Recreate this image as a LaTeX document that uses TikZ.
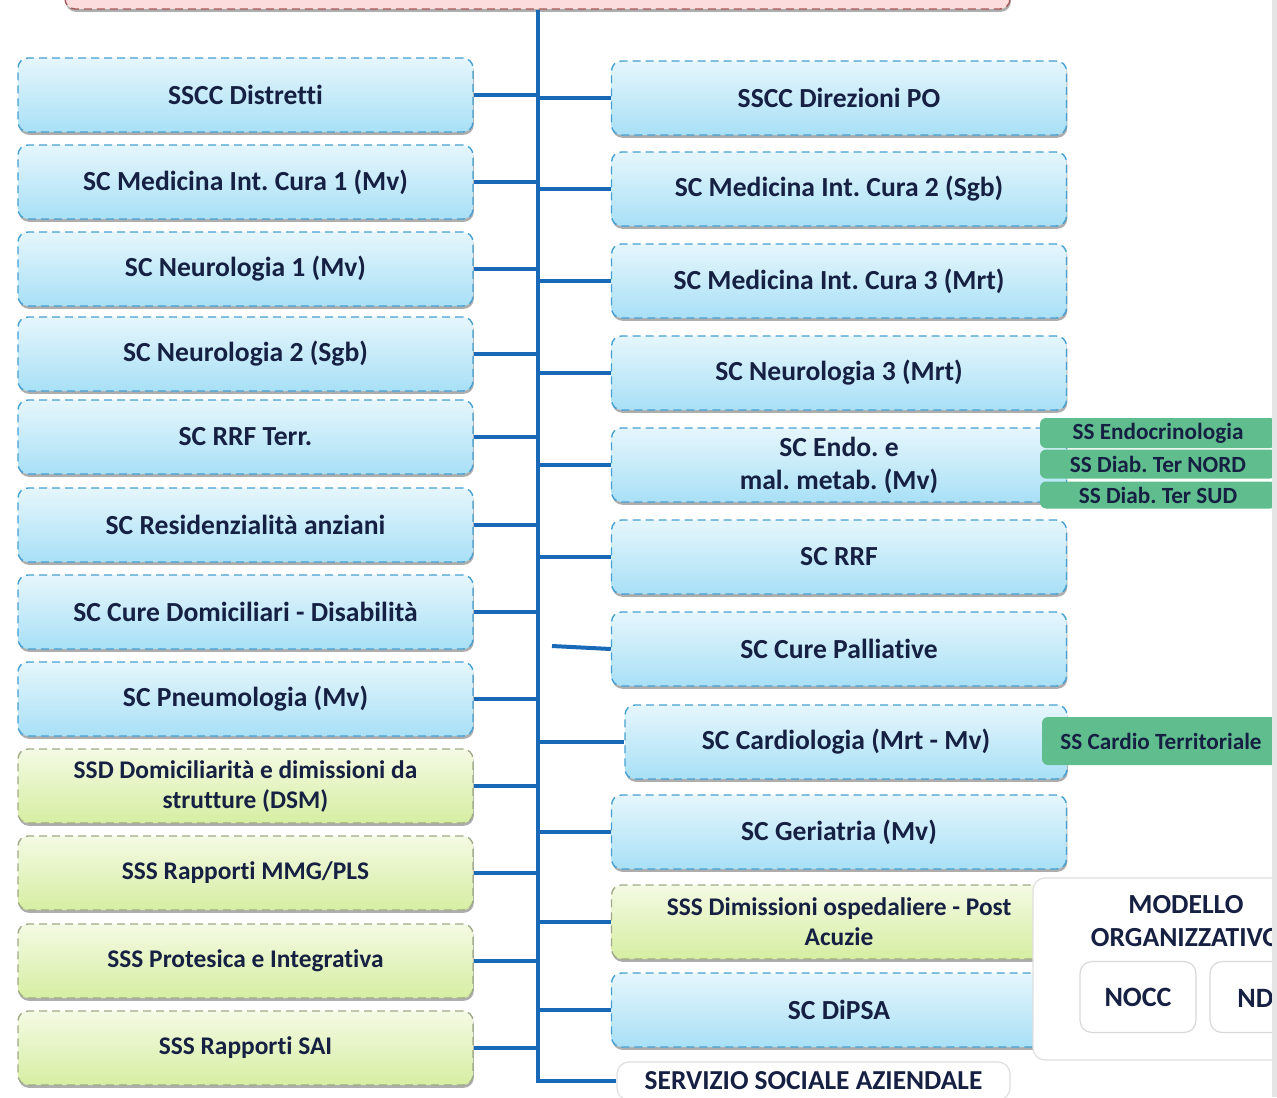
\documentclass[tikz,border=0pt]{standalone}
\usepackage{fontspec}
\setmainfont{Carlito}[Ligatures=NoCommon]
\usepackage{xcolor}
\usepackage{tikz}
\usetikzlibrary{shadows}
\definecolor{navy}{RGB}{22,32,66}
\definecolor{linkblue}{RGB}{25,105,185}
\definecolor{boxedge}{RGB}{70,160,210}
\definecolor{bluetop}{RGB}{230,246,252}
\definecolor{bluebot}{RGB}{168,224,246}
\definecolor{greentop}{RGB}{244,250,228}
\definecolor{greenbot}{RGB}{214,238,162}
\definecolor{greenedge}{RGB}{160,170,135}
\definecolor{ssgreen}{RGB}{96,190,142}
\definecolor{pinkfill}{RGB}{252,220,220}
\frenchspacing

\begin{document}
\begin{tikzpicture}[x=0.5pt, y=-0.5pt, font=\bfseries\fontsize{13.8}{15.5}\selectfont, text=navy,
    unit/.style={rectangle, rounded corners=5pt, dash pattern=on 4pt off 2.5pt, line width=0.7pt,
      draw=boxedge, top color=bluetop, bottom color=bluebot, align=center, inner sep=2pt,
      minimum width=227.5pt, minimum height=37pt,
      drop shadow={shadow xshift=0.4pt, shadow yshift=-1.4pt, fill=gray!80, opacity=0.8}},
    greenunit/.style={unit, draw=greenedge, top color=greentop, bottom color=greenbot,
      font=\bfseries\fontsize{12.7}{15}\selectfont},
    subunit/.style={rectangle, rounded corners=3pt, fill=ssgreen, inner sep=1pt,
      minimum width=118pt, font=\bfseries\fontsize{11.6}{13}\selectfont},
    panelbox/.style={rectangle, rounded corners=6pt, draw=gray!25, line width=0.6pt, fill=white},
    conn/.style={draw=linkblue, line width=2pt}]
  \useasboundingbox (0,0) rectangle (1277,1097);
  \clip (0,0) rectangle (1277,1097);
  \fill[white] (0,0) rectangle (1277,1097);

  % direzione (top, cut)
  \node[unit, draw=gray!70!red, top color=pinkfill, bottom color=pinkfill,
    minimum width=472.5pt, minimum height=34.5pt] (dir) at (537.5,-25.5) {};

  % left column
  \node[unit] (dist) at (245.5,95) {SSCC Distretti};
  \node[unit] (medone) at (245.5,182) {SC Medicina Int. Cura 1 (Mv)};
  \node[unit] (neuone) at (245.5,269) {SC Neurologia 1 (Mv)};
  \node[unit] (neutwo) at (245.5,354) {SC Neurologia 2 (Sgb)};
  \node[unit] (rrfterr) at (245.5,437) {SC RRF Terr.};
  \node[unit] (resid) at (245.5,525) {SC Residenzialità anziani};
  \node[unit] (curedom) at (245.5,612) {SC Cure Domiciliari - Disabilità};
  \node[unit] (pneumo) at (245.5,699) {SC Pneumologia (Mv)};
  \node[greenunit] (ssddom) at (245.5,786) {SSD Domiciliarità e dimissioni da\\strutture (DSM)};
  \node[greenunit] (mmg) at (245.5,873) {SSS Rapporti MMG/PLS};
  \node[greenunit] (protesica) at (245.5,961) {SSS Protesica e Integrativa};
  \node[greenunit] (sai) at (245.5,1048) {SSS Rapporti SAI};

  % right column
  \node[unit] (dirpo) at (839,98) {SSCC Direzioni PO};
  \node[unit] (medtwo) at (839,189) {SC Medicina Int. Cura 2 (Sgb)};
  \node[unit] (medthree) at (839,281) {SC Medicina Int. Cura 3 (Mrt)};
  \node[unit] (neuthree) at (839,373) {SC Neurologia 3 (Mrt)};
  \node[unit, font=\bfseries\fontsize{13.8}{16.5}\selectfont] (endo) at (839,465) {SC Endo. e\\mal. metab. (Mv)};
  \node[unit] (rrf) at (839,557) {SC RRF};
  \node[unit] (pall) at (839,649) {SC Cure Palliative};
  \node[unit, minimum width=221pt] (cardio) at (846,742) {SC Cardiologia (Mrt - Mv)};
  \node[unit] (geri) at (839,832) {SC Geriatria (Mv)};
  \node[greenunit] (dimosp) at (839,922) {SSS Dimissioni ospedaliere - Post\\Acuzie};
  \node[unit] (dipsa) at (839,1010) {SC DiPSA};
  \node[panelbox, minimum width=196.5pt, minimum height=19pt] (sociale) at (813.5,1081)
    {\fontsize{13.7}{15}\selectfont SERVIZIO SOCIALE AZIENDALE};

  % strutture semplici
  \node[subunit, minimum height=15pt] (endocr) at (1158,433) {SS Endocrinologia};
  \node[subunit, minimum height=14.5pt] (diabnord) at (1158,464) {SS Diab. Ter NORD};
  \node[subunit, minimum height=13.5pt] (diabsud) at (1158,495) {SS Diab. Ter SUD};
  \node[subunit, minimum width=119pt, minimum height=24pt] (cardioterr) at (1161,741) {SS Cardio Territoriale};

  % modello organizzativo
  \node[panelbox, minimum width=140pt, minimum height=91pt] (modello) at (1173,969) {};
  \node[font=\bfseries\fontsize{13.8}{16.5}\selectfont, align=center] (modtitle) at (1186,921)
    {MODELLO\\ORGANIZZATIVO};
  \node[panelbox, draw=gray!30, minimum width=58pt, minimum height=35.5pt] (nocc) at (1138,997)
    {\fontsize{14}{15}\selectfont NOCC};
  \node[panelbox, draw=gray!30, minimum width=60pt, minimum height=35.5pt] (ndbox) at (1270,997) {};
  \node[anchor=west, inner sep=0pt, font=\bfseries\fontsize{14}{15}\selectfont] (nd) at (1237,998) {ND};

  % connectors
  \draw[conn] (dir.south) -- (dir.south |- sociale.west) -- (sociale.west);
  \draw[conn] (dist.east) -- (dist.east -| dir.south);
  \draw[conn] (medone.east) -- (medone.east -| dir.south);
  \draw[conn] (neuone.east) -- (neuone.east -| dir.south);
  \draw[conn] (neutwo.east) -- (neutwo.east -| dir.south);
  \draw[conn] (rrfterr.east) -- (rrfterr.east -| dir.south);
  \draw[conn] (resid.east) -- (resid.east -| dir.south);
  \draw[conn] (curedom.east) -- (curedom.east -| dir.south);
  \draw[conn] (pneumo.east) -- (pneumo.east -| dir.south);
  \draw[conn] (ssddom.east) -- (ssddom.east -| dir.south);
  \draw[conn] (mmg.east) -- (mmg.east -| dir.south);
  \draw[conn] (protesica.east) -- (protesica.east -| dir.south);
  \draw[conn] (sai.east) -- (sai.east -| dir.south);
  \draw[conn] (dir.south |- dirpo.west) -- (dirpo.west);
  \draw[conn] (dir.south |- medtwo.west) -- (medtwo.west);
  \draw[conn] (dir.south |- medthree.west) -- (medthree.west);
  \draw[conn] (dir.south |- neuthree.west) -- (neuthree.west);
  \draw[conn] (dir.south |- endo.west) -- (endo.west);
  \draw[conn] (dir.south |- rrf.west) -- (rrf.west);
  \coordinate (pallfree) at (552,646);
  \draw[conn] (pallfree) -- (pall.west);
  \draw[conn] (dir.south |- cardio.west) -- (cardio.west);
  \draw[conn] (dir.south |- geri.west) -- (geri.west);
  \draw[conn] (dir.south |- dimosp.west) -- (dimosp.west);
  \draw[conn] (dir.south |- dipsa.west) -- (dipsa.west);

  % page edge
  \fill[gray!20] (1272,0) rectangle (1277,1097);
\end{tikzpicture}
\end{document}
